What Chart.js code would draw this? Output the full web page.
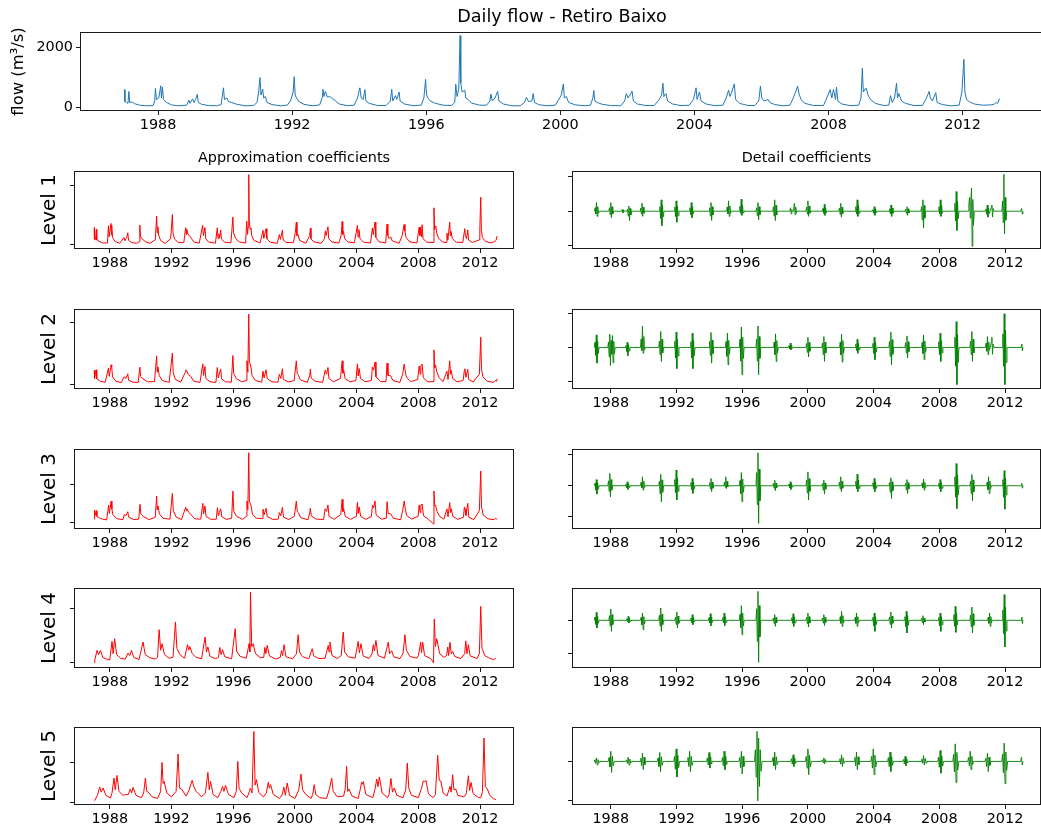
<!DOCTYPE html>
<html><head><meta charset="utf-8">
<script src="https://cdn.jsdelivr.net/npm/chart.js@4"></script>
<style>
html,body{margin:0;padding:0;background:#fff;overflow:hidden;width:1041px;height:831px;position:relative;}
canvas{position:absolute;}
</style></head><body>
<canvas id="top"></canvas>
<canvas id="a1"></canvas><canvas id="a2"></canvas><canvas id="a3"></canvas><canvas id="a4"></canvas><canvas id="a5"></canvas>
<canvas id="d1"></canvas><canvas id="d2"></canvas><canvas id="d3"></canvas><canvas id="d4"></canvas><canvas id="d5"></canvas>
<script>
const yearTicks = [1988,1992,1996,2000,2004,2008,2012];
const flowTicks = [0,2000];
const approxTicks = [[0,2500],[0,3000],[0,2000],[0,3000],[0,2500]];
const detailTicks = [[-1,0,1],[-1,0,1],[-1,0,1],[-1,0],[-1,0]];
const levelNames = ['Level 1','Level 2','Level 3','Level 4','Level 5'];

// Daily flow (m³/s), [decimal year, value]
const flow = [[1987.00,580],[1987.01,180],[1987.06,150],[1987.10,120],[1987.13,520],[1987.15,150],[1987.22,170],[1987.30,110],[1987.45,60],[1987.65,40],[1987.85,50],[1987.90,200],[1987.92,620],[1987.95,250],[1988.02,300],[1988.08,710],[1988.10,300],[1988.13,660],[1988.16,250],[1988.25,150],[1988.40,70],[1988.60,40],[1988.85,60],
[1988.92,230],[1988.95,120],[1989.03,270],[1989.07,150],[1989.12,250],[1989.17,420],[1989.20,150],[1989.30,90],[1989.50,50],[1989.75,40],[1989.88,80],
[1989.95,640],[1989.98,250],[1990.05,300],[1990.10,180],[1990.20,150],[1990.35,90],[1990.60,40],[1990.85,50],[1990.95,150],
[1991.00,500],[1991.04,980],[1991.07,400],[1991.12,600],[1991.15,300],[1991.20,350],[1991.25,150],[1991.40,80],[1991.65,40],[1991.85,60],[1991.95,200],
[1992.03,500],[1992.06,1010],[1992.09,400],[1992.13,300],[1992.20,180],[1992.35,90],[1992.60,40],[1992.82,70],[1992.90,330],
[1992.92,590],[1992.95,350],[1992.99,520],[1993.05,330],[1993.12,350],[1993.20,280],[1993.28,220],[1993.40,100],[1993.65,45],[1993.85,60],
[1993.95,300],[1994.02,640],[1994.06,300],[1994.12,250],[1994.17,580],[1994.20,200],[1994.30,120],[1994.55,50],[1994.80,50],
[1994.93,200],[1994.97,590],[1995.00,200],[1995.08,380],[1995.12,250],[1995.19,500],[1995.22,200],[1995.35,100],[1995.60,45],[1995.85,60],
[1995.93,300],[1995.98,920],[1996.01,400],[1996.05,300],[1996.12,200],[1996.25,130],[1996.50,60],[1996.75,50],[1996.85,150],
[1996.88,760],[1996.92,350],[1996.97,600],[1997.01,2380],[1997.03,800],[1997.07,500],[1997.15,560],[1997.18,300],[1997.25,250],[1997.35,130],[1997.60,60],[1997.80,60],
[1997.90,200],[1997.93,430],[1997.97,200],[1998.05,300],[1998.13,520],[1998.17,200],[1998.30,100],[1998.55,40],[1998.80,40],
[1998.93,150],[1998.99,320],[1999.05,180],[1999.15,200],[1999.19,450],[1999.23,150],[1999.35,80],[1999.60,40],[1999.85,60],
[1999.98,300],[2000.03,400],[2000.09,770],[2000.12,300],[2000.18,350],[2000.25,150],[2000.45,70],[2000.75,40],[2000.90,60],
[2000.97,300],[2001.00,550],[2001.03,200],[2001.10,150],[2001.25,90],[2001.50,50],[2001.80,40],
[2001.92,200],[2001.97,450],[2002.02,300],[2002.08,400],[2002.14,530],[2002.18,200],[2002.30,100],[2002.55,50],[2002.80,50],
[2002.95,250],[2003.02,400],[2003.06,790],[2003.09,350],[2003.15,450],[2003.20,200],[2003.35,100],[2003.60,45],[2003.85,60],
[2003.97,250],[2004.05,640],[2004.08,250],[2004.15,500],[2004.20,200],[2004.35,100],[2004.60,45],[2004.85,60],
[2004.95,300],[2005.02,560],[2005.06,350],[2005.10,450],[2005.19,770],[2005.23,250],[2005.35,120],[2005.60,50],[2005.80,50],
[2005.92,200],[2005.97,700],[2006.01,300],[2006.08,200],[2006.20,250],[2006.25,150],[2006.40,80],[2006.65,40],[2006.85,60],
[2006.95,300],[2007.00,450],[2007.05,600],[2007.08,700],[2007.12,450],[2007.18,250],[2007.30,120],[2007.55,50],[2007.85,50],
[2007.95,300],[2008.05,580],[2008.10,300],[2008.15,590],[2008.21,250],[2008.24,660],[2008.28,200],[2008.40,100],[2008.65,45],[2008.90,60],
[2008.97,300],[2009.01,1290],[2009.04,500],[2009.09,600],[2009.13,620],[2009.18,400],[2009.25,250],[2009.40,120],[2009.65,50],[2009.80,60],
[2009.85,380],[2009.90,150],[2009.97,300],[2010.03,790],[2010.06,300],[2010.10,450],[2010.18,200],[2010.30,120],[2010.55,50],[2010.80,50],
[2010.90,250],[2010.97,420],[2011.00,520],[2011.04,300],[2011.10,200],[2011.20,480],[2011.24,150],[2011.40,80],[2011.65,40],[2011.90,60],
[2011.98,500],[2012.04,1590],[2012.07,500],[2012.12,250],[2012.20,180],[2012.35,100],[2012.60,60],[2012.85,70],[2012.95,100],
[2013.00,150],[2013.05,120],[2013.10,280]];

const approx1 = [[1987.00,720],[1987.01,230],[1987.08,200],[1987.13,650],[1987.16,200],[1987.30,140],[1987.55,70],[1987.85,65],[1987.92,800],[1987.96,330],[1988.08,893],[1988.11,400],[1988.13,820],[1988.18,300],[1988.35,130],[1988.65,55],[1988.92,300],[1988.98,160],[1989.10,300],[1989.17,500],[1989.22,180],[1989.40,90],[1989.75,55],[1989.90,120],[1989.95,822],[1990.00,330],[1990.10,240],[1990.30,130],[1990.60,55],[1990.95,200],[1991.04,1200],[1991.08,500],[1991.12,750],[1991.17,400],[1991.30,170],[1991.60,55],[1991.95,250],[1992.06,1270],[1992.10,500],[1992.20,230],[1992.45,90],[1992.80,80],[1992.92,713],[1992.96,430],[1992.99,650],[1993.08,420],[1993.20,350],[1993.30,250],[1993.45,110],[1993.80,60],[1994.02,810],[1994.07,380],[1994.17,720],[1994.22,250],[1994.40,110],[1994.85,60],[1994.97,713],[1995.02,250],[1995.08,450],[1995.12,300],[1995.19,620],[1995.24,230],[1995.45,100],[1995.85,70],[1995.98,1158],[1996.02,500],[1996.15,260],[1996.40,110],[1996.80,65],[1996.88,990],[1996.93,430],[1996.97,750],[1997.01,2950],[1997.04,1000],[1997.10,650],[1997.15,700],[1997.20,380],[1997.35,170],[1997.75,70],[1997.93,600],[1997.98,260],[1998.13,671],[1998.18,250],[1998.40,100],[1998.85,55],[1998.99,420],[1999.06,220],[1999.19,612],[1999.24,190],[1999.45,90],[1999.90,80],[2000.03,520],[2000.09,948],[2000.13,380],[2000.20,430],[2000.30,180],[2000.70,55],[2000.96,380],[2001.00,696],[2001.04,250],[2001.20,120],[2001.70,55],[2001.92,250],[2001.97,580],[2002.02,380],[2002.14,755],[2002.19,250],[2002.40,110],[2002.85,65],[2003.00,400],[2003.06,977],[2003.10,430],[2003.15,560],[2003.22,250],[2003.45,110],[2003.85,70],[2004.05,810],[2004.09,320],[2004.15,630],[2004.22,250],[2004.45,100],[2004.90,70],[2005.02,700],[2005.07,430],[2005.10,560],[2005.19,948],[2005.24,300],[2005.45,120],[2005.88,70],[2005.97,864],[2006.02,380],[2006.10,260],[2006.20,330],[2006.30,160],[2006.75,55],[2006.95,380],[2007.03,700],[2007.08,851],[2007.13,560],[2007.20,300],[2007.45,110],[2007.90,70],[2008.05,730],[2008.10,380],[2008.15,740],[2008.21,320],[2008.24,839],[2008.30,250],[2008.55,100],[2008.95,90],[2009.01,1552],[2009.05,620],[2009.09,750],[2009.13,780],[2009.19,480],[2009.30,280],[2009.55,110],[2009.80,90],[2009.85,480],[2009.91,190],[2010.03,948],[2010.07,380],[2010.11,560],[2010.20,250],[2010.45,100],[2010.88,90],[2010.97,520],[2011.00,671],[2011.05,380],[2011.12,250],[2011.20,620],[2011.25,190],[2011.50,90],[2011.95,200],[2011.98,650],[2012.04,1997],[2012.08,620],[2012.15,300],[2012.35,130],[2012.70,75],[2012.95,130],[2013.03,180],[2013.10,360]];

const approx2 = [[1987.00,700],[1987.02,300],[1987.12,717],[1987.16,280],[1987.35,180],[1987.70,110],[1987.92,800],[1987.97,400],[1988.09,956],[1988.13,850],[1988.18,380],[1988.40,170],[1988.75,100],[1988.93,380],[1989.05,300],[1989.17,526],[1989.22,220],[1989.50,120],[1989.85,110],[1989.95,845],[1990.00,400],[1990.15,280],[1990.45,140],[1990.90,150],[1991.04,1386],[1991.08,600],[1991.13,850],[1991.20,450],[1991.40,200],[1991.85,110],[1992.06,1515],[1992.11,580],[1992.25,260],[1992.60,120],[1992.90,600],[1992.93,717],[1992.99,680],[1993.10,480],[1993.25,400],[1993.45,170],[1993.85,110],[1994.03,1004],[1994.08,450],[1994.17,880],[1994.23,300],[1994.50,140],[1994.88,110],[1994.97,827],[1995.03,330],[1995.10,520],[1995.19,760],[1995.25,280],[1995.50,140],[1995.88,120],[1995.98,1400],[1996.03,550],[1996.20,300],[1996.55,140],[1996.85,200],[1996.89,1147],[1996.95,600],[1997.01,3394],[1997.05,1100],[1997.15,850],[1997.22,450],[1997.45,200],[1997.85,120],[1997.93,650],[1998.00,330],[1998.13,717],[1998.20,300],[1998.50,140],[1998.90,120],[1998.99,500],[1999.08,300],[1999.19,765],[1999.25,260],[1999.55,130],[1999.95,200],[2000.09,1147],[2000.15,520],[2000.22,480],[2000.35,230],[2000.80,110],[2000.96,450],[2001.00,750],[2001.05,330],[2001.30,170],[2001.80,110],[2001.96,700],[2002.05,500],[2002.14,827],[2002.20,300],[2002.50,140],[2002.95,300],[2003.06,1147],[2003.11,550],[2003.16,700],[2003.25,300],[2003.55,140],[2003.95,200],[2004.05,1004],[2004.10,420],[2004.16,780],[2004.25,300],[2004.55,140],[2004.95,200],[2005.02,850],[2005.10,700],[2005.19,1085],[2005.25,380],[2005.55,150],[2005.90,150],[2005.97,1037],[2006.03,450],[2006.20,430],[2006.35,200],[2006.80,110],[2006.98,500],[2007.08,990],[2007.14,700],[2007.22,360],[2007.50,150],[2007.95,250],[2008.05,900],[2008.12,500],[2008.16,900],[2008.24,990],[2008.32,330],[2008.60,140],[2008.95,150],[2009.01,1673],[2009.06,800],[2009.11,950],[2009.20,600],[2009.35,330],[2009.60,150],[2009.85,650],[2009.92,250],[2010.03,1147],[2010.08,500],[2010.12,700],[2010.22,300],[2010.50,140],[2010.90,200],[2010.98,700],[2011.01,765],[2011.08,350],[2011.20,740],[2011.26,250],[2011.55,130],[2011.95,500],[2012.04,2280],[2012.09,750],[2012.18,380],[2012.45,170],[2012.85,110],[2013.00,200],[2013.06,170],[2013.10,287]];

const approx3 = [[1987.00,150],[1987.02,637],[1987.05,350],[1987.13,600],[1987.17,300],[1987.40,180],[1987.80,110],[1987.93,900],[1987.98,450],[1988.09,1114],[1988.14,700],[1988.20,400],[1988.45,180],[1988.85,120],[1988.95,400],[1989.05,330],[1989.17,548],[1989.23,250],[1989.55,130],[1989.88,150],[1989.96,937],[1990.02,420],[1990.20,280],[1990.55,130],[1990.95,250],[1991.04,1379],[1991.08,650],[1991.13,850],[1991.22,430],[1991.45,200],[1991.90,150],[1992.06,1521],[1992.12,600],[1992.30,270],[1992.65,130],[1992.92,778],[1992.96,600],[1993.00,700],[1993.12,520],[1993.28,380],[1993.50,170],[1993.90,150],[1994.03,990],[1994.08,430],[1994.17,850],[1994.24,300],[1994.55,140],[1994.90,150],[1994.98,760],[1995.04,330],[1995.10,500],[1995.19,700],[1995.26,280],[1995.55,140],[1995.90,200],[1995.98,1645],[1996.04,560],[1996.22,300],[1996.60,140],[1996.86,300],[1996.89,1114],[1996.95,650],[1997.01,3678],[1997.05,1100],[1997.15,900],[1997.24,420],[1997.50,200],[1997.88,180],[1997.93,680],[1998.00,380],[1998.13,725],[1998.20,300],[1998.55,140],[1998.92,150],[1998.99,500],[1999.08,330],[1999.19,778],[1999.26,260],[1999.60,130],[1999.96,300],[2000.09,1114],[2000.15,550],[2000.22,500],[2000.38,230],[2000.85,120],[2000.96,500],[2001.00,725],[2001.06,330],[2001.35,160],[2001.85,130],[2001.96,700],[2002.05,560],[2002.14,902],[2002.21,300],[2002.55,140],[2002.97,400],[2003.06,1202],[2003.11,550],[2003.16,700],[2003.26,300],[2003.60,140],[2003.98,300],[2004.05,1043],[2004.10,450],[2004.16,800],[2004.26,300],[2004.60,140],[2004.96,300],[2005.02,900],[2005.10,750],[2005.19,1114],[2005.26,380],[2005.60,150],[2005.92,200],[2005.97,1079],[2006.04,450],[2006.20,430],[2006.38,200],[2006.85,120],[2006.98,600],[2007.08,1114],[2007.15,700],[2007.24,350],[2007.55,150],[2007.98,300],[2008.05,900],[2008.12,500],[2008.16,900],[2008.24,955],[2008.33,330],[2008.65,140],[2008.97,-100],[2009.01,1645],[2009.06,850],[2009.11,900],[2009.21,550],[2009.38,300],[2009.65,150],[2009.85,700],[2009.92,280],[2010.03,1025],[2010.08,500],[2010.13,700],[2010.23,300],[2010.55,140],[2010.92,250],[2010.98,800],[2011.02,700],[2011.08,350],[2011.20,990],[2011.27,250],[2011.60,130],[2011.95,600],[2012.04,2706],[2012.09,800],[2012.20,380],[2012.50,170],[2012.90,120],[2013.00,200],[2013.10,143]];

const approx4 = [[1987.00,0],[1987.03,150],[1987.18,688],[1987.28,450],[1987.40,688],[1987.55,300],[1987.80,200],[1988.00,150],[1988.15,1190],[1988.22,500],[1988.32,1342],[1988.45,450],[1988.70,250],[1989.00,200],[1989.19,540],[1989.30,400],[1989.41,688],[1989.55,300],[1989.90,180],[1990.16,1157],[1990.30,450],[1990.60,280],[1990.95,200],[1991.10,300],[1991.20,1845],[1991.30,700],[1991.39,1062],[1991.55,450],[1991.85,250],[1992.10,300],[1992.26,2275],[1992.35,800],[1992.55,450],[1992.85,250],[1993.04,1006],[1993.12,700],[1993.19,900],[1993.35,500],[1993.60,300],[1993.95,220],[1994.18,1437],[1994.27,600],[1994.36,878],[1994.50,350],[1994.85,220],[1995.05,300],[1995.13,855],[1995.22,450],[1995.31,727],[1995.45,330],[1995.90,220],[1996.13,1900],[1996.22,650],[1996.45,350],[1996.85,250],[1997.03,1062],[1997.08,600],[1997.12,3952],[1997.20,900],[1997.29,1062],[1997.45,500],[1997.75,280],[1997.98,300],[1998.05,855],[1998.12,500],[1998.20,967],[1998.35,380],[1998.75,200],[1999.05,300],[1999.13,671],[1999.20,400],[1999.30,1006],[1999.42,330],[1999.85,220],[2000.10,500],[2000.21,1565],[2000.30,600],[2000.50,330],[2000.90,220],[2001.12,783],[2001.22,380],[2001.55,230],[2001.95,250],[2002.16,967],[2002.21,600],[2002.27,1157],[2002.40,400],[2002.75,230],[2003.00,400],[2003.13,1716],[2003.22,600],[2003.45,330],[2003.90,250],[2004.10,1190],[2004.18,550],[2004.28,1062],[2004.42,380],[2004.80,230],[2005.00,500],[2005.08,1006],[2005.15,650],[2005.25,1247],[2005.38,400],[2005.80,250],[2006.05,1157],[2006.13,500],[2006.27,671],[2006.40,330],[2006.80,230],[2007.00,500],[2007.13,1565],[2007.22,700],[2007.45,350],[2007.90,250],[2008.00,400],[2008.15,1157],[2008.20,550],[2008.28,1140],[2008.40,400],[2008.80,230],[2008.98,0],[2009.03,2443],[2009.10,900],[2009.19,1341],[2009.26,1040],[2009.38,500],[2009.65,300],[2009.83,400],[2009.90,878],[2009.96,400],[2010.05,1140],[2010.13,500],[2010.22,630],[2010.35,350],[2010.75,230],[2011.00,500],[2011.07,1220],[2011.15,500],[2011.24,1006],[2011.35,380],[2011.80,230],[2011.95,500],[2012.04,3147],[2012.12,800],[2012.30,400],[2012.60,250],[2012.85,180],[2012.95,200],[2013.01,263]];

const approx5 = [[1987.00,130],[1987.03,127],[1987.20,450],[1987.35,977],[1987.45,650],[1987.57,914],[1987.75,450],[1988.05,280],[1988.15,600],[1988.28,1548],[1988.36,800],[1988.47,1713],[1988.60,700],[1988.85,450],[1989.00,489],[1989.20,500],[1989.34,850],[1989.42,600],[1989.51,952],[1989.70,450],[1990.05,300],[1990.20,600],[1990.31,1548],[1990.40,700],[1990.50,650],[1990.75,350],[1991.10,250],[1991.30,700],[1991.39,2538],[1991.46,1200],[1991.52,1332],[1991.70,600],[1992.00,350],[1992.30,700],[1992.43,3071],[1992.52,900],[1992.65,850],[1992.95,400],[1993.15,800],[1993.25,1123],[1993.34,1396],[1993.45,1000],[1993.60,700],[1993.95,350],[1994.20,600],[1994.36,1904],[1994.45,800],[1994.53,1332],[1994.70,500],[1995.00,300],[1995.20,700],[1995.31,1015],[1995.40,700],[1995.50,1079],[1995.70,500],[1996.05,300],[1996.20,700],[1996.30,2601],[1996.38,900],[1996.55,600],[1996.90,300],[1997.05,700],[1997.12,914],[1997.22,600],[1997.34,4505],[1997.42,1100],[1997.51,1440],[1997.65,650],[1997.95,350],[1998.15,600],[1998.27,1269],[1998.35,900],[1998.42,1123],[1998.60,500],[1999.00,250],[1999.18,500],[1999.28,977],[1999.38,450],[1999.50,1231],[1999.65,450],[2000.00,250],[2000.25,800],[2000.39,1802],[2000.50,800],[2000.70,500],[2001.05,250],[2001.15,500],[2001.25,1123],[2001.35,500],[2001.60,300],[2002.05,250],[2002.25,900],[2002.38,1548],[2002.48,700],[2002.75,350],[2003.15,400],[2003.25,800],[2003.35,2284],[2003.42,700],[2003.50,850],[2003.70,400],[2004.10,250],[2004.25,900],[2004.32,1269],[2004.38,1150],[2004.43,1332],[2004.60,500],[2005.05,300],[2005.20,900],[2005.30,1485],[2005.38,1000],[2005.47,1612],[2005.65,600],[2006.00,300],[2006.10,500],[2006.22,1520],[2006.32,650],[2006.44,914],[2006.60,450],[2007.00,300],[2007.18,800],[2007.28,2500],[2007.38,900],[2007.55,450],[2008.00,300],[2008.20,900],[2008.32,1364],[2008.40,1300],[2008.49,1396],[2008.65,550],[2008.95,300],[2009.10,500],[2009.25,2982],[2009.35,1400],[2009.45,1364],[2009.60,600],[2009.85,400],[2010.05,1015],[2010.12,650],[2010.22,1757],[2010.30,800],[2010.42,850],[2010.55,450],[2010.95,350],[2011.10,550],[2011.24,1694],[2011.32,750],[2011.41,1269],[2011.55,550],[2011.90,300],[2012.05,300],[2012.15,700],[2012.25,4086],[2012.34,1000],[2012.47,850],[2012.62,450],[2012.85,250],[2013.02,171]];

// Detail coefficients, in units of one y-tick step
const detail1 = [[1987.00,0],[1987.01,0],[1987.05,.1],[1987.09,-.08],[1987.13,.25],[1987.17,-.15],[1987.21,.13],[1987.25,-.06],[1987.30,0],[1987.88,0],[1987.92,.1],[1987.96,-.1],[1988.00,.25],[1988.04,-.19],[1988.08,.13],[1988.12,-.08],[1988.17,0],[1988.66,0],[1988.70,.05],[1988.74,-.05],[1988.78,.03],[1988.82,0],[1988.98,0],[1989.02,.06],[1989.06,-.14],[1989.10,.15],[1989.14,-.27],[1989.18,.08],[1989.22,-.11],[1989.27,0],[1989.78,0],[1989.82,.09],[1989.86,-.08],[1989.90,.23],[1989.94,-.15],[1989.98,.12],[1990.02,-.06],[1990.07,0],[1990.95,0],[1990.99,.13],[1991.03,-.21],[1991.07,.33],[1991.11,-.42],[1991.15,.17],[1991.19,-.17],[1991.24,0],[1991.86,0],[1991.90,.12],[1991.94,-.16],[1991.98,.3],[1992.02,-.32],[1992.06,.15],[1992.10,-.13],[1992.15,0],[1992.78,0],[1992.82,.1],[1992.86,-.1],[1992.90,.25],[1992.94,-.19],[1992.98,.13],[1993.02,-.08],[1993.07,0],[1993.98,0],[1994.02,.1],[1994.06,-.14],[1994.10,.25],[1994.14,-.27],[1994.18,.13],[1994.22,-.11],[1994.27,0],[1995.05,0],[1995.09,.12],[1995.13,-.08],[1995.17,.3],[1995.21,-.15],[1995.25,.15],[1995.29,-.06],[1995.34,0],[1995.82,0],[1995.86,.14],[1995.90,-.06],[1995.94,.35],[1995.98,-.12],[1996.02,.18],[1996.06,-.05],[1996.11,0],[1996.84,0],[1996.88,.1],[1996.92,-.13],[1996.96,.25],[1997.00,-.25],[1997.04,.13],[1997.08,-.1],[1997.13,0],[1997.86,0],[1997.90,.13],[1997.94,-.14],[1997.98,.33],[1998.02,-.27],[1998.06,.17],[1998.10,-.11],[1998.15,0],[1998.90,0],[1998.94,.1],[1998.98,-.08],[1999.02,.05],[1999.06,0],[1999.10,0],[1999.14,.1],[1999.18,.23],[1999.22,-.1],[1999.26,.12],[1999.30,-.05],[1999.34,0],[1999.88,0],[1999.92,.12],[1999.96,-.08],[2000.00,.3],[2000.04,-.15],[2000.08,.15],[2000.12,-.06],[2000.17,0],[2000.88,0],[2000.92,.08],[2000.96,-.06],[2001.00,.2],[2001.04,-.12],[2001.08,.1],[2001.12,-.05],[2001.17,0],[2001.88,0],[2001.92,.09],[2001.96,-.09],[2002.00,.23],[2002.04,-.17],[2002.08,.12],[2002.12,-.07],[2002.17,0],[2002.88,0],[2002.92,.13],[2002.96,-.08],[2003.00,.33],[2003.04,-.15],[2003.08,.17],[2003.12,-.06],[2003.17,0],[2003.92,0],[2003.96,.05],[2004.00,-.06],[2004.04,.13],[2004.08,-.12],[2004.12,.07],[2004.16,-.05],[2004.21,0],[2004.94,0],[2004.98,.07],[2005.02,-.08],[2005.06,.18],[2005.10,-.15],[2005.14,.09],[2005.18,-.06],[2005.23,0],[2005.91,0],[2005.95,.05],[2005.99,-.06],[2006.03,.13],[2006.07,-.12],[2006.11,.07],[2006.15,-.05],[2006.20,0],[2006.88,0],[2006.92,.13],[2006.96,-.25],[2007.00,.33],[2007.04,-.49],[2007.08,.17],[2007.12,-.2],[2007.17,0],[2007.94,0],[2007.98,.13],[2008.02,-.08],[2008.06,.33],[2008.10,-.15],[2008.14,.17],[2008.18,-.06],[2008.23,0],[2008.91,0],[2008.95,.23],[2008.99,-.28],[2009.03,.57],[2009.07,-.56],[2009.11,.29],[2009.15,-.22],[2009.20,0],[2009.76,0],[2009.80,.2],[2009.84,.4],[2009.88,-.2],[2009.92,.3],[2009.96,.67],[2010.00,-1.02],[2010.04,.34],[2010.08,-.41],[2010.13,0],[2010.80,0],[2010.84,.07],[2010.88,-.09],[2010.92,.18],[2010.96,-.17],[2011.00,.09],[2011.04,-.07],[2011.09,0],[2011.12,0],[2011.16,.1],[2011.20,.18],[2011.24,-.17],[2011.28,.08],[2011.33,0],[2011.81,0],[2011.85,.3],[2011.89,-.33],[2011.93,1.07],[2011.97,-.66],[2012.01,.4],[2012.05,-.26],[2012.10,0],[2012.97,0],[2013.01,.08],[2013.05,-.08],[2013.09,0]];

const detail2 = [[1987.00,0],[1987.04,.15],[1987.08,-.23],[1987.12,.37],[1987.16,-.46],[1987.20,.19],[1987.24,-.18],[1987.29,0],[1987.82,0],[1987.86,.16],[1987.90,-.27],[1987.94,.39],[1987.98,-.53],[1988.02,.2],[1988.06,-.2],[1988.10,.35],[1988.14,-.45],[1988.18,.18],[1988.22,-.18],[1988.27,0],[1988.88,0],[1988.92,.06],[1988.96,-.12],[1989.00,.15],[1989.04,-.24],[1989.08,.08],[1989.12,-.1],[1989.17,0],[1989.81,0],[1989.85,.25],[1989.89,-.09],[1989.93,.63],[1989.97,-.17],[1990.01,.32],[1990.05,-.07],[1990.10,0],[1990.92,0],[1990.96,.19],[1991.00,-.21],[1991.04,.47],[1991.08,-.41],[1991.12,.24],[1991.16,-.16],[1991.21,0],[1991.86,0],[1991.90,.18],[1991.94,-.31],[1991.98,.45],[1992.02,-.62],[1992.06,.23],[1992.10,-.25],[1992.15,0],[1992.84,0],[1992.88,.17],[1992.92,-.31],[1992.96,.42],[1993.00,-.62],[1993.04,.21],[1993.08,-.25],[1993.13,0],[1993.98,0],[1994.02,.18],[1994.06,-.23],[1994.10,.44],[1994.14,-.46],[1994.18,.22],[1994.22,-.18],[1994.27,0],[1994.98,0],[1995.02,.17],[1995.06,-.26],[1995.10,.42],[1995.14,-.51],[1995.18,.21],[1995.22,-.2],[1995.27,0],[1995.83,0],[1995.87,.24],[1995.91,-.4],[1995.95,.6],[1995.99,-.8],[1996.03,.3],[1996.07,-.32],[1996.12,0],[1996.84,0],[1996.88,.25],[1996.92,-.4],[1996.96,.63],[1997.00,-.8],[1997.04,.32],[1997.08,-.32],[1997.13,0],[1997.91,0],[1997.95,.16],[1997.99,-.21],[1998.03,.4],[1998.07,-.41],[1998.11,.2],[1998.15,-.16],[1998.20,0],[1998.81,0],[1998.85,.05],[1998.89,-.04],[1998.93,.13],[1998.97,-.07],[1999.01,.07],[1999.05,-.03],[1999.10,0],[1999.88,0],[1999.92,.12],[1999.96,-.14],[2000.00,.3],[2000.04,-.28],[2000.08,.15],[2000.12,-.11],[2000.17,0],[2000.85,0],[2000.89,.13],[2000.93,-.21],[2000.97,.32],[2001.01,-.41],[2001.05,.16],[2001.09,-.16],[2001.14,0],[2001.93,0],[2001.97,.16],[2002.01,-.22],[2002.05,.39],[2002.09,-.43],[2002.13,.2],[2002.17,-.17],[2002.22,0],[2002.88,0],[2002.92,.1],[2002.96,-.09],[2003.00,.24],[2003.04,-.17],[2003.08,.12],[2003.12,-.07],[2003.17,0],[2003.92,0],[2003.96,.12],[2004.00,-.18],[2004.04,.3],[2004.08,-.36],[2004.12,.15],[2004.16,-.14],[2004.21,0],[2004.93,0],[2004.97,.18],[2005.01,-.26],[2005.05,.45],[2005.09,-.51],[2005.13,.23],[2005.17,-.2],[2005.22,0],[2005.91,0],[2005.95,.14],[2005.99,-.16],[2006.03,.34],[2006.07,-.31],[2006.11,.17],[2006.15,-.12],[2006.20,0],[2006.92,0],[2006.96,.15],[2007.00,-.18],[2007.04,.37],[2007.08,-.36],[2007.12,.19],[2007.16,-.14],[2007.21,0],[2007.93,0],[2007.97,.17],[2008.01,-.21],[2008.05,.42],[2008.09,-.41],[2008.13,.21],[2008.17,-.16],[2008.22,0],[2008.91,0],[2008.95,.3],[2008.99,-.55],[2009.03,.76],[2009.07,-1.09],[2009.11,.38],[2009.15,-.44],[2009.20,0],[2009.86,0],[2009.90,.19],[2009.94,-.21],[2009.98,.47],[2010.02,-.41],[2010.06,.24],[2010.10,-.16],[2010.15,0],[2010.81,0],[2010.85,.13],[2010.89,-.11],[2010.93,.32],[2010.97,-.21],[2011.01,.16],[2011.05,-.08],[2011.10,0],[2011.12,0],[2011.16,.15],[2011.20,.3],[2011.24,-.2],[2011.28,.1],[2011.33,0],[2011.83,0],[2011.87,.4],[2011.91,-.55],[2011.95,.99],[2011.99,-1.09],[2012.03,.5],[2012.07,-.44],[2012.12,0],[2012.98,0],[2013.02,.1],[2013.06,-.1],[2013.10,0]];

const detail3 = [[1987.00,0],[1987.04,.08],[1987.08,-.14],[1987.12,.2],[1987.16,-.27],[1987.20,.1],[1987.24,-.11],[1987.29,0],[1987.82,0],[1987.86,.16],[1987.90,-.18],[1987.94,.4],[1987.98,-.36],[1988.02,.2],[1988.06,-.14],[1988.11,0],[1988.88,0],[1988.92,.05],[1988.96,-.06],[1989.00,.13],[1989.04,-.12],[1989.08,.07],[1989.12,-.05],[1989.17,0],[1989.81,0],[1989.85,.12],[1989.89,-.07],[1989.93,.29],[1989.97,-.14],[1990.01,.15],[1990.05,-.06],[1990.10,0],[1990.92,0],[1990.96,.15],[1991.00,-.26],[1991.04,.37],[1991.08,-.52],[1991.12,.19],[1991.16,-.21],[1991.21,0],[1991.86,0],[1991.90,.2],[1991.94,-.23],[1991.98,.51],[1992.02,-.46],[1992.06,.26],[1992.10,-.18],[1992.15,0],[1992.84,0],[1992.88,.1],[1992.92,-.13],[1992.96,.24],[1993.00,-.25],[1993.04,.12],[1993.08,-.1],[1993.13,0],[1993.98,0],[1994.02,.1],[1994.06,-.1],[1994.10,.24],[1994.14,-.19],[1994.18,.12],[1994.22,-.08],[1994.27,0],[1994.88,0],[1994.92,.12],[1994.96,-.05],[1995.00,.29],[1995.04,-.09],[1995.08,.15],[1995.12,-.04],[1995.17,0],[1995.83,0],[1995.87,.17],[1995.91,-.26],[1995.95,.43],[1995.99,-.52],[1996.03,.22],[1996.07,-.21],[1996.12,0],[1996.84,0],[1996.88,.43],[1996.92,-.61],[1996.96,1.07],[1997.00,-1.22],[1997.04,.54],[1997.08,-.49],[1997.13,0],[1997.86,0],[1997.90,.07],[1997.94,-.08],[1997.98,.18],[1998.02,-.16],[1998.06,.09],[1998.10,-.06],[1998.15,0],[1998.81,0],[1998.85,.05],[1998.89,-.06],[1998.93,.13],[1998.97,-.12],[1999.01,.07],[1999.05,-.05],[1999.10,0],[1999.88,0],[1999.92,.18],[1999.96,-.23],[2000.00,.45],[2000.04,-.46],[2000.08,.23],[2000.12,-.18],[2000.17,0],[2000.85,0],[2000.89,.07],[2000.93,-.14],[2000.97,.18],[2001.01,-.27],[2001.05,.09],[2001.09,-.11],[2001.14,0],[2001.88,0],[2001.92,.12],[2001.96,-.1],[2002.00,.29],[2002.04,-.19],[2002.08,.15],[2002.12,-.08],[2002.17,0],[2002.88,0],[2002.92,.15],[2002.96,-.1],[2003.00,.38],[2003.04,-.19],[2003.08,.19],[2003.12,-.08],[2003.17,0],[2003.92,0],[2003.96,.1],[2004.00,-.1],[2004.04,.24],[2004.08,-.19],[2004.12,.12],[2004.16,-.08],[2004.21,0],[2004.93,0],[2004.97,.1],[2005.01,-.21],[2005.05,.26],[2005.09,-.41],[2005.13,.13],[2005.17,-.16],[2005.22,0],[2005.91,0],[2005.95,.08],[2005.99,-.13],[2006.03,.2],[2006.07,-.25],[2006.11,.1],[2006.15,-.1],[2006.20,0],[2006.92,0],[2006.96,.09],[2007.00,-.07],[2007.04,.22],[2007.08,-.14],[2007.12,.11],[2007.16,-.06],[2007.21,0],[2007.93,0],[2007.97,.08],[2008.01,-.1],[2008.05,.2],[2008.09,-.19],[2008.13,.1],[2008.17,-.08],[2008.22,0],[2008.91,0],[2008.95,.29],[2008.99,-.37],[2009.03,.72],[2009.07,-.74],[2009.11,.36],[2009.15,-.3],[2009.20,0],[2009.86,0],[2009.90,.15],[2009.94,-.25],[2009.98,.37],[2010.02,-.49],[2010.06,.19],[2010.10,-.2],[2010.15,0],[2010.88,0],[2010.92,.12],[2010.96,-.13],[2011.00,.29],[2011.04,-.25],[2011.08,.15],[2011.12,-.1],[2011.17,0],[2011.83,0],[2011.87,.2],[2011.91,-.38],[2011.95,.49],[2011.99,-.76],[2012.03,.25],[2012.07,-.3],[2012.12,0],[2012.98,0],[2013.02,.08],[2013.06,-.08],[2013.10,0]];

const detail4 = [[1987.00,0],[1987.04,.1],[1987.08,-.12],[1987.12,.24],[1987.16,-.23],[1987.20,.12],[1987.24,-.09],[1987.29,0],[1987.88,0],[1987.92,.14],[1987.96,-.17],[1988.00,.34],[1988.04,-.33],[1988.08,.17],[1988.12,-.13],[1988.17,0],[1988.94,0],[1988.98,.05],[1989.02,-.04],[1989.06,.12],[1989.10,-.08],[1989.14,.06],[1989.18,-.03],[1989.23,0],[1989.81,0],[1989.85,.09],[1989.89,-.14],[1989.93,.22],[1989.97,-.28],[1990.01,.11],[1990.05,-.11],[1990.10,0],[1990.92,0],[1990.96,.15],[1991.00,-.17],[1991.04,.37],[1991.08,-.33],[1991.12,.19],[1991.16,-.13],[1991.21,0],[1991.90,0],[1991.94,.1],[1991.98,-.12],[1992.02,.25],[1992.06,-.23],[1992.10,.13],[1992.14,-.09],[1992.19,0],[1992.84,0],[1992.88,.07],[1992.92,-.07],[1992.96,.17],[1993.00,-.13],[1993.04,.09],[1993.08,-.05],[1993.13,0],[1993.94,0],[1993.98,.08],[1994.02,-.08],[1994.06,.2],[1994.10,-.16],[1994.14,.1],[1994.18,-.06],[1994.23,0],[1994.78,0],[1994.82,.09],[1994.86,-.08],[1994.90,.22],[1994.94,-.16],[1994.98,.11],[1995.02,-.06],[1995.07,0],[1995.83,0],[1995.87,.18],[1995.91,-.22],[1995.95,.44],[1995.99,-.43],[1996.03,.22],[1996.07,-.17],[1996.12,0],[1996.84,0],[1996.88,.35],[1996.92,-.63],[1996.96,.87],[1997.00,-1.26],[1997.04,.44],[1997.08,-.5],[1997.13,0],[1997.86,0],[1997.90,.07],[1997.94,-.09],[1997.98,.17],[1998.02,-.18],[1998.06,.09],[1998.10,-.07],[1998.15,0],[1998.98,0],[1999.02,.08],[1999.06,-.09],[1999.10,.2],[1999.14,-.18],[1999.18,.1],[1999.22,-.07],[1999.27,0],[1999.88,0],[1999.92,.09],[1999.96,-.1],[2000.00,.22],[2000.04,-.2],[2000.08,.11],[2000.12,-.08],[2000.17,0],[2000.85,0],[2000.89,.07],[2000.93,-.08],[2000.97,.17],[2001.01,-.16],[2001.05,.09],[2001.09,-.06],[2001.14,0],[2001.93,0],[2001.97,.11],[2002.01,-.09],[2002.05,.27],[2002.09,-.18],[2002.13,.14],[2002.17,-.07],[2002.22,0],[2002.84,0],[2002.88,.09],[2002.92,-.09],[2002.96,.22],[2003.00,-.18],[2003.04,.11],[2003.08,-.07],[2003.13,0],[2003.92,0],[2003.96,.09],[2004.00,-.17],[2004.04,.22],[2004.08,-.33],[2004.12,.11],[2004.16,-.13],[2004.21,0],[2004.93,0],[2004.97,.1],[2005.01,-.12],[2005.05,.25],[2005.09,-.23],[2005.13,.13],[2005.17,-.09],[2005.22,0],[2005.87,0],[2005.91,.11],[2005.95,-.19],[2005.99,.27],[2006.03,-.38],[2006.07,.14],[2006.11,-.15],[2006.16,0],[2006.88,0],[2006.92,.06],[2006.96,-.07],[2007.00,.14],[2007.04,-.13],[2007.08,.07],[2007.12,-.05],[2007.17,0],[2007.93,0],[2007.97,.09],[2008.01,-.17],[2008.05,.22],[2008.09,-.33],[2008.13,.11],[2008.17,-.13],[2008.22,0],[2008.85,0],[2008.89,.17],[2008.93,-.18],[2008.97,.42],[2009.01,-.36],[2009.05,.21],[2009.09,-.14],[2009.14,0],[2009.86,0],[2009.90,.16],[2009.94,-.19],[2009.98,.4],[2010.02,-.38],[2010.06,.2],[2010.10,-.15],[2010.15,0],[2010.94,0],[2010.98,.09],[2011.02,-.09],[2011.06,.22],[2011.10,-.18],[2011.14,.11],[2011.18,-.07],[2011.23,0],[2011.83,0],[2011.87,.31],[2011.91,-.4],[2011.95,.77],[2011.99,-.8],[2012.03,.39],[2012.07,-.32],[2012.12,0],[2012.98,0],[2013.02,.1],[2013.06,-.1],[2013.10,0]];

const detail5 = [[1987.00,0],[1987.02,.04],[1987.07,-.05],[1987.12,.09],[1987.17,-.09],[1987.22,.05],[1987.27,-.04],[1987.33,0],[1987.85,0],[1987.90,.1],[1987.95,-.14],[1988.00,.26],[1988.05,-.28],[1988.10,.13],[1988.15,-.11],[1988.21,0],[1988.91,0],[1988.96,.04],[1989.01,-.05],[1989.06,.11],[1989.11,-.09],[1989.16,.06],[1989.21,-.04],[1989.27,0],[1989.78,0],[1989.83,.08],[1989.88,-.11],[1989.93,.21],[1989.98,-.21],[1990.03,.11],[1990.08,-.08],[1990.14,0],[1990.83,0],[1990.88,.09],[1990.93,-.13],[1990.98,.23],[1991.03,-.26],[1991.08,.12],[1991.13,-.1],[1991.19,0],[1991.83,0],[1991.88,.13],[1991.93,-.2],[1991.98,.32],[1992.03,-.4],[1992.08,.16],[1992.13,-.16],[1992.19,0],[1992.65,0],[1992.70,.1],[1992.75,-.13],[1992.80,.26],[1992.85,-.26],[1992.90,.13],[1992.95,-.1],[1993.01,0],[1993.83,0],[1993.88,.09],[1993.93,-.09],[1993.98,.23],[1994.03,-.17],[1994.08,.12],[1994.13,-.07],[1994.19,0],[1994.75,0],[1994.80,.1],[1994.85,-.11],[1994.90,.26],[1994.95,-.21],[1995.00,.13],[1995.05,-.08],[1995.11,0],[1995.80,0],[1995.85,.1],[1995.90,-.16],[1995.95,.26],[1996.00,-.32],[1996.05,.13],[1996.10,-.13],[1996.16,0],[1996.75,0],[1996.80,.3],[1996.85,-.4],[1996.90,.77],[1996.95,-1.01],[1997.00,.6],[1997.05,-.64],[1997.10,.3],[1997.15,-.25],[1997.21,0],[1997.83,0],[1997.88,.1],[1997.93,-.11],[1997.98,.24],[1998.03,-.21],[1998.08,.12],[1998.13,-.08],[1998.19,0],[1998.95,0],[1999.00,.07],[1999.05,-.07],[1999.10,.17],[1999.15,-.13],[1999.20,.09],[1999.25,-.05],[1999.31,0],[1999.85,0],[1999.90,.13],[1999.95,-.17],[2000.00,.32],[2000.05,-.34],[2000.10,.16],[2000.15,-.14],[2000.21,0],[2000.82,0],[2000.87,.04],[2000.92,-.03],[2000.97,.09],[2001.02,-.06],[2001.07,.05],[2001.12,-.02],[2001.18,0],[2001.90,0],[2001.95,.07],[2002.00,-.07],[2002.05,.17],[2002.10,-.13],[2002.15,.09],[2002.20,-.05],[2002.26,0],[2002.81,0],[2002.86,.1],[2002.91,-.11],[2002.96,.24],[2003.01,-.21],[2003.06,.12],[2003.11,-.08],[2003.17,0],[2003.83,0],[2003.88,.13],[2003.93,-.17],[2003.98,.32],[2004.03,-.34],[2004.08,.16],[2004.13,-.14],[2004.19,0],[2004.85,0],[2004.90,.1],[2004.95,-.13],[2005.00,.24],[2005.05,-.26],[2005.10,.12],[2005.15,-.1],[2005.21,0],[2005.77,0],[2005.82,.05],[2005.87,-.06],[2005.92,.13],[2005.97,-.11],[2006.02,.07],[2006.07,-.04],[2006.13,0],[2006.89,0],[2006.94,.06],[2006.99,-.05],[2007.04,.15],[2007.09,-.09],[2007.14,.08],[2007.19,-.04],[2007.25,0],[2007.90,0],[2007.95,.11],[2008.00,-.15],[2008.05,.28],[2008.10,-.3],[2008.15,.14],[2008.20,-.12],[2008.26,0],[2008.82,0],[2008.87,.18],[2008.92,-.27],[2008.97,.45],[2009.02,-.54],[2009.07,.23],[2009.12,-.22],[2009.18,0],[2009.73,0],[2009.78,.1],[2009.83,-.11],[2009.88,.26],[2009.93,-.21],[2009.98,.13],[2010.03,-.08],[2010.09,0],[2010.78,0],[2010.83,.08],[2010.88,-.13],[2010.93,.21],[2010.98,-.26],[2011.03,.11],[2011.08,-.1],[2011.14,0],[2011.80,0],[2011.85,.19],[2011.90,-.29],[2011.95,.47],[2012.00,-.57],[2012.05,.24],[2012.10,-.23],[2012.16,0],[2012.95,0],[2013.00,.11],[2013.05,-.09],[2013.10,0]];

const FONT = "'DejaVu Sans', sans-serif";
const INK = '#1a1a1a';

const framePlugin = {
  id: 'frame',
  afterDraw(chart) {
    const {ctx, chartArea: a} = chart;
    ctx.save();
    ctx.strokeStyle = INK; ctx.lineWidth = 1;
    ctx.strokeRect(Math.round(a.left) - 0.5, Math.round(a.top) - 0.5,
                   Math.round(a.right) - Math.round(a.left) + 1, Math.round(a.bottom) - Math.round(a.top) + 1);
    ctx.restore();
  }
};

function makeChart(id, o) {
  const [L, T, R, B] = o.box;
  const W = R - L + o.ls + o.rs, H = B - T + o.ts + o.bs;
  const cv = document.getElementById(id);
  cv.width = W; cv.height = H;
  cv.style.left = (L - o.ls) + 'px'; cv.style.top = (T - o.ts) + 'px';
  cv.style.width = W + 'px'; cv.style.height = H + 'px';
  const titleH = o.title ? o.title.size * 1.2 + o.title.pb : 0;
  const gridOpts = {display: true, drawOnChartArea: false, drawTicks: true, tickLength: 5, color: INK, tickColor: INK, tickWidth: 1, lineWidth: 1};
  new Chart(cv, {
    type: 'line',
    data: {datasets: [{data: o.data.map(p => ({x: p[0], y: p[1]})), borderColor: o.color, borderWidth: o.lw,
      pointRadius: 0, tension: 0, fill: false}]},
    options: {
      responsive: false, animation: false, devicePixelRatio: 1, parsing: false,
      layout: {padding: {left: 0, right: o.rs, top: o.ts - titleH, bottom: 0}},
      plugins: {
        legend: {display: false}, tooltip: {enabled: false},
        title: o.title ? {display: true, fullSize: false, text: o.title.text, color: '#000',
          font: {family: FONT, size: o.title.size, weight: 'normal'}, padding: {top: 0, bottom: o.title.pb}} : {display: false}
      },
      scales: {
        x: {type: 'linear', min: o.xmin, max: o.xmax,
          afterBuildTicks: s => { s.ticks = yearTicks.map(v => ({value: v})); },
          afterFit: s => { s.height = o.bs; },
          grid: gridOpts, border: {display: false},
          ticks: {color: '#000', font: {family: FONT, size: o.tickSize}, padding: 2, maxRotation: 0, autoSkip: false,
            callback: v => String(v)}},
        y: {type: 'linear', min: o.ymin, max: o.ymax,
          afterBuildTicks: s => { s.ticks = o.yticks.map(v => ({value: v})); },
          afterFit: s => { s.width = o.ls; },
          grid: gridOpts, border: {display: false},
          ticks: {display: !!o.ylabels, color: '#000', font: {family: FONT, size: o.tickSize}, padding: 3,
            callback: v => String(v)},
          title: {display: !!o.ylabel, text: o.ylabel || '', color: '#000',
            font: {family: FONT, size: o.ylabelSize || 14}, padding: {top: o.ylabelPad || 0, bottom: 0}}}
      }
    },
    plugins: [framePlugin]
  });
}

// top panel
makeChart('top', {box: [81, 33, 1043, 110], ls: 81, rs: 4, ts: 33, bs: 30,
  data: flow, color: '#1f77b4', lw: 1, xmin: 1985.7, xmax: 2014.4, ymin: -100, ymax: 2467,
  yticks: flowTicks, ylabels: true, tickSize: 14.4,
  ylabel: 'flow (m³/s)', ylabelSize: 16.4, ylabelPad: 9,
  title: {text: 'Daily flow - Retiro Baixo', size: 17.6, pb: 4.8}});

const rows = [[172, 248], [310, 388], [450, 528], [589, 667], [728, 804]];
const approx = [approx1, approx2, approx3, approx4, approx5];
const approxRange = [[-143, 3062], [-158, 3589], [-318, 3820], [-240, 4117], [-102, 4721]];
const detail = [detail1, detail2, detail3, detail4, detail5];
const detailRange = [[-1.068, 1.138], [-1.19, 1.10], [-1.37, 1.16], [-1.40, 0.94], [-1.09, 0.856]];

rows.forEach(([T, B], i) => {
  makeChart('a' + (i + 1), {box: [75, T, 513, B], ls: 75, rs: 4, ts: i === 0 ? 30 : 8, bs: 30,
    data: approx[i], color: '#ff0000', lw: 1, xmin: 1985.75, xmax: 2014.13,
    ymin: approxRange[i][0], ymax: approxRange[i][1], yticks: approxTicks[i], ylabels: false, tickSize: 14.4,
    ylabel: levelNames[i], ylabelSize: 20, ylabelPad: 38,
    title: i === 0 ? {text: 'Approximation coefficients', size: 14.4, pb: 5.4} : null});
  makeChart('d' + (i + 1), {box: [573, T, 1040, B], ls: 30, rs: 1, ts: i === 0 ? 30 : 8, bs: 30,
    data: detail[i], color: '#008000', lw: 0.9, xmin: 1985.7, xmax: 2014.13,
    ymin: detailRange[i][0], ymax: detailRange[i][1], yticks: detailTicks[i], ylabels: false, tickSize: 14.4,
    title: i === 0 ? {text: 'Detail coefficients', size: 14.4, pb: 5.4} : null});
});
</script>
</body></html>
